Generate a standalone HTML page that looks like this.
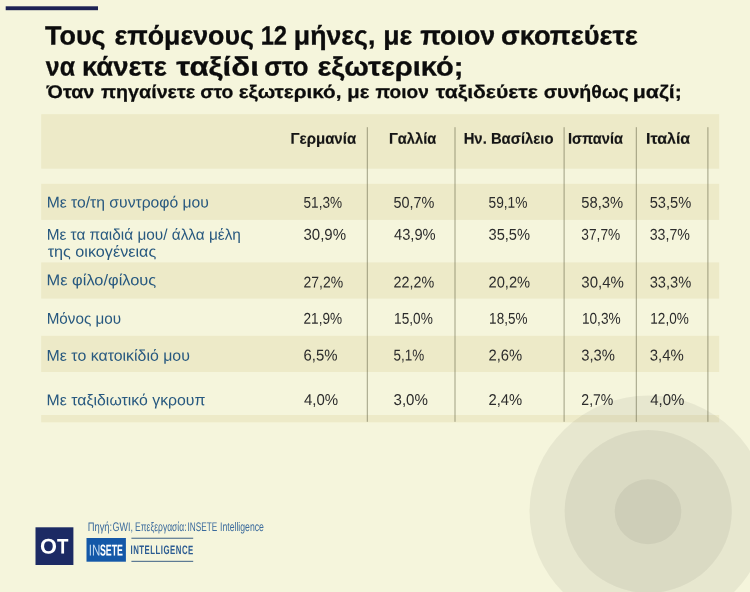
<!DOCTYPE html>
<html lang="el">
<head>
<meta charset="utf-8">
<title>Ταξίδι στο εξωτερικό</title>
<style>
html,body{margin:0;padding:0;}
body{width:750px;height:592px;position:relative;overflow:hidden;background:#f5f5dc;font-family:"Liberation Sans",sans-serif;color:#1a1a1a;}
.abs{position:absolute;}
.g{display:block;margin:0;padding:0;height:0;font:inherit;}
.t{position:absolute;left:0;top:0;white-space:nowrap;line-height:1;transform-origin:0 0;}
.h1{font-weight:bold;color:#0c0c0c;-webkit-text-stroke:0.3px #0c0c0c;}
.h2{font-weight:bold;color:#0c0c0c;-webkit-text-stroke:0.25px #0c0c0c;}
.th{font-weight:bold;color:#151515;-webkit-text-stroke:0.15px #151515;}
.lb{color:#27587f;}
.v{color:#2c2c2c;}
.src{color:#3a6a9c;}
.ot{color:#fff;font-weight:bold;}
.ins1{color:#c4dbf0;}
.ins2{color:#fff;font-weight:bold;}
.intel{color:#2b5b92;font-weight:bold;letter-spacing:0.8px;}

</style>
</head>
<body>

<!-- table bands, circles and column rules -->
<svg class="abs" style="left:0;top:0;" width="750" height="592" viewBox="0 0 750 592">
<rect x="41.2" y="114.2" width="678.0" height="54.5" fill="#edeac8"/>
<rect x="41.2" y="183.8" width="678.0" height="36.1" fill="#edeac8"/>
<rect x="41.2" y="262.4" width="678.0" height="36.2" fill="#edeac8"/>
<rect x="41.2" y="335.8" width="678.0" height="36.2" fill="#edeac8"/>
<rect x="41.2" y="415.0" width="678.0" height="7.3" fill="#edeac8"/>
<ellipse cx="648.5" cy="511.5" rx="119" ry="116" fill="#000" fill-opacity="0.055"/>
<ellipse cx="648.2" cy="511.5" rx="83.6" ry="81.5" fill="#000" fill-opacity="0.055"/>
<ellipse cx="648" cy="511.7" rx="33.3" ry="32.5" fill="#000" fill-opacity="0.055"/>
<rect x="366.8" y="127.2" width="1" height="294.6" fill="#5a5a3c" fill-opacity="0.55"/>
<rect x="454.5" y="127.2" width="1" height="294.6" fill="#5a5a3c" fill-opacity="0.55"/>
<rect x="563.6" y="127.2" width="1" height="294.6" fill="#5a5a3c" fill-opacity="0.55"/>
<rect x="635.8" y="127.2" width="1" height="294.6" fill="#5a5a3c" fill-opacity="0.55"/>
<rect x="707.4" y="127.2" width="1" height="294.6" fill="#5a5a3c" fill-opacity="0.55"/>
</svg>

<!-- footer -->
<svg class="abs" style="left:0;top:0;" width="750" height="592" viewBox="0 0 750 592">
<rect x="5.7" y="6.3" width="92.3" height="3.9" fill="#1c2253"/>
<rect x="35.5" y="527.3" width="37.9" height="37.7" fill="#1c2a64"/>
<rect x="86.5" y="538" width="39.4" height="23.7" fill="#1458a8"/>
<rect x="131.4" y="537.7" width="61.8" height="1.1" fill="#4d6d8c"/>
<rect x="131.4" y="560.8" width="61.8" height="1.1" fill="#4d6d8c"/>
</svg>
<h1 class="g">
<div class="t h1" style="font-size:26.5px;transform:matrix(1.0154,0.0008,0,1,45.05,22.53);">Τους</div>
<div class="t h1" style="font-size:26.5px;transform:matrix(1.0106,0.0008,0,1,114.54,22.49);">επόμενους</div>
<div class="t h1" style="font-size:26.5px;transform:matrix(0.8963,0.0008,0,1,260.66,22.54);">12</div>
<div class="t h1" style="font-size:26.5px;transform:matrix(1.0077,0.0008,0,1,293.84,22.52);">μήνες,</div>
<div class="t h1" style="font-size:26.5px;transform:matrix(1.0093,0.0008,0,1,383.23,22.54);">με</div>
<div class="t h1" style="font-size:26.5px;transform:matrix(1.0124,0.0008,0,1,420.29,22.52);">ποιον</div>
<div class="t h1" style="font-size:26.5px;transform:matrix(1.0297,0.0008,0,1,500.97,22.50);">σκοπεύετε</div>
<div class="t h1" style="font-size:26.5px;transform:matrix(0.9398,0.0008,0,1,45.80,53.54);">να</div>
<div class="t h1" style="font-size:26.5px;transform:matrix(1.0357,0.0008,0,1,81.89,53.52);">κάνετε</div>
<div class="t h1" style="font-size:26.5px;transform:matrix(1.1798,0.0008,0,1,176.30,53.52);">ταξίδι</div>
<div class="t h1" style="font-size:26.5px;transform:matrix(0.9701,0.0008,0,1,264.33,53.53);">στο</div>
<div class="t h1" style="font-size:26.5px;transform:matrix(1.0962,0.0008,0,1,317.48,53.50);">εξωτερικό;</div>
</h1>
<h2 class="g">
<div class="t h2" style="font-size:18.3px;transform:matrix(1.0834,0.0008,0,1,46.57,83.03);">Όταν</div>
<div class="t h2" style="font-size:18.3px;transform:matrix(1.0767,0.0008,0,1,101.03,83.01);">πηγαίνετε</div>
<div class="t h2" style="font-size:18.3px;transform:matrix(1.0579,0.0008,0,1,200.27,83.04);">στο</div>
<div class="t h2" style="font-size:18.3px;transform:matrix(1.1328,0.0008,0,1,238.63,83.01);">εξωτερικό,</div>
<div class="t h2" style="font-size:18.3px;transform:matrix(1.1081,0.0008,0,1,347.31,83.04);">με</div>
<div class="t h2" style="font-size:18.3px;transform:matrix(1.0440,0.0008,0,1,375.54,83.03);">ποιον</div>
<div class="t h2" style="font-size:18.3px;transform:matrix(1.1590,0.0008,0,1,435.80,83.01);">ταξιδεύετε</div>
<div class="t h2" style="font-size:18.3px;transform:matrix(1.0709,0.0008,0,1,543.66,83.02);">συνήθως</div>
<div class="t h2" style="font-size:18.3px;transform:matrix(1.1669,0.0008,0,1,632.74,83.03);">μαζί;</div>
</h2>
<section class="g">
<div class="t th" style="font-size:15.5px;transform:matrix(0.9684,0.0008,0,1,290.53,130.67);">Γερμανία</div>
<div class="t th" style="font-size:15.5px;transform:matrix(0.9477,0.0008,0,1,388.95,130.68);">Γαλλία</div>
<div class="t th" style="font-size:15.5px;transform:matrix(0.9583,0.0008,0,1,463.64,130.66);">Ην. Βασίλειο</div>
<div class="t th" style="font-size:15.5px;transform:matrix(0.9415,0.0008,0,1,568.06,130.68);">Ισπανία</div>
<div class="t th" style="font-size:15.5px;transform:matrix(1.0299,0.0008,0,1,646.07,130.68);">Ιταλία</div>
<div class="t lb" style="font-size:15.5px;transform:matrix(1.0117,0.0008,0,1,46.64,194.44);">Με το/τη συντροφό μου</div>
<div class="t lb" style="font-size:15.5px;transform:matrix(0.9917,0.0008,0,1,46.66,226.72);">Με τα παιδιά μου/ άλλα μέλη</div>
<div class="t lb" style="font-size:15.5px;transform:matrix(1.0441,0.0008,0,1,47.64,243.76);">της οικογένειας</div>
<div class="t lb" style="font-size:15.5px;transform:matrix(1.0578,0.0008,0,1,46.58,272.26);">Με φίλο/φίλους</div>
<div class="t lb" style="font-size:15.5px;transform:matrix(0.9831,0.0008,0,1,46.67,310.67);">Μόνος μου</div>
<div class="t lb" style="font-size:15.5px;transform:matrix(1.0258,0.0008,0,1,46.62,347.74);">Με το κατοικίδιό μου</div>
<div class="t lb" style="font-size:15.5px;transform:matrix(1.0215,0.0008,0,1,46.62,392.14);">Με ταξιδιωτικό γκρουπ</div>
<div class="t v" style="font-size:15.7px;transform:matrix(0.8671,0.0008,0,1,303.55,194.78);">51,3%</div>
<div class="t v" style="font-size:15.7px;transform:matrix(0.9202,0.0008,0,1,393.51,194.78);">50,7%</div>
<div class="t v" style="font-size:15.7px;transform:matrix(0.8740,0.0008,0,1,488.54,194.78);">59,1%</div>
<div class="t v" style="font-size:15.7px;transform:matrix(0.9410,0.0008,0,1,581.29,194.78);">58,3%</div>
<div class="t v" style="font-size:15.7px;transform:matrix(0.9341,0.0008,0,1,649.70,194.78);">53,5%</div>
<div class="t v" style="font-size:15.7px;transform:matrix(0.9572,0.0008,0,1,303.48,226.78);">30,9%</div>
<div class="t v" style="font-size:15.7px;transform:matrix(0.9371,0.0008,0,1,393.97,226.78);">43,9%</div>
<div class="t v" style="font-size:15.7px;transform:matrix(0.9341,0.0008,0,1,488.50,226.78);">35,5%</div>
<div class="t v" style="font-size:15.7px;transform:matrix(0.8740,0.0008,0,1,581.34,226.78);">37,7%</div>
<div class="t v" style="font-size:15.7px;transform:matrix(0.9040,0.0008,0,1,649.72,226.78);">33,7%</div>
<div class="t v" style="font-size:15.7px;transform:matrix(0.8902,0.0008,0,1,303.53,274.38);">27,2%</div>
<div class="t v" style="font-size:15.7px;transform:matrix(0.9133,0.0008,0,1,393.52,274.38);">22,2%</div>
<div class="t v" style="font-size:15.7px;transform:matrix(0.9364,0.0008,0,1,488.50,274.38);">20,2%</div>
<div class="t v" style="font-size:15.7px;transform:matrix(0.9572,0.0008,0,1,581.28,274.38);">30,4%</div>
<div class="t v" style="font-size:15.7px;transform:matrix(0.9341,0.0008,0,1,649.70,274.38);">33,3%</div>
<div class="t v" style="font-size:15.7px;transform:matrix(0.8671,0.0008,0,1,303.55,310.78);">21,9%</div>
<div class="t v" style="font-size:15.7px;transform:matrix(0.8702,0.0008,0,1,394.11,310.78);">15,0%</div>
<div class="t v" style="font-size:15.7px;transform:matrix(0.8608,0.0008,0,1,489.12,310.78);">18,5%</div>
<div class="t v" style="font-size:15.7px;transform:matrix(0.8702,0.0008,0,1,581.91,310.78);">10,3%</div>
<div class="t v" style="font-size:15.7px;transform:matrix(0.8632,0.0008,0,1,650.32,310.78);">12,0%</div>
<div class="t v" style="font-size:15.7px;transform:matrix(0.9507,0.0008,0,1,303.49,347.59);">6,5%</div>
<div class="t v" style="font-size:15.7px;transform:matrix(0.8580,0.0008,0,1,393.56,347.59);">5,1%</div>
<div class="t v" style="font-size:15.7px;transform:matrix(0.9420,0.0008,0,1,488.49,347.59);">2,6%</div>
<div class="t v" style="font-size:15.7px;transform:matrix(0.9420,0.0008,0,1,581.29,347.59);">3,3%</div>
<div class="t v" style="font-size:15.7px;transform:matrix(0.9507,0.0008,0,1,649.69,347.59);">3,4%</div>
<div class="t v" style="font-size:15.7px;transform:matrix(0.9571,0.0008,0,1,303.96,391.99);">4,0%</div>
<div class="t v" style="font-size:15.7px;transform:matrix(0.9623,0.0008,0,1,393.48,391.99);">3,0%</div>
<div class="t v" style="font-size:15.7px;transform:matrix(0.9420,0.0008,0,1,488.49,391.99);">2,4%</div>
<div class="t v" style="font-size:15.7px;transform:matrix(0.8957,0.0008,0,1,581.33,391.99);">2,7%</div>
<div class="t v" style="font-size:15.7px;transform:matrix(0.9571,0.0008,0,1,650.16,391.99);">4,0%</div>
</section>
<footer class="g">
<div class="t src" style="font-size:12.5px;transform:matrix(0.7508,0.0008,0,1,87.65,520.99);">Πηγή:</div>
<div class="t src" style="font-size:12.5px;transform:matrix(0.7170,0.0008,0,1,112.46,520.99);">GWI,</div>
<div class="t src" style="font-size:12.5px;transform:matrix(0.6826,0.0008,0,1,135.02,520.97);">Επεξεργασία:</div>
<div class="t src" style="font-size:12.5px;transform:matrix(0.6590,0.0008,0,1,187.58,520.98);">INSETE</div>
<div class="t src" style="font-size:12.5px;transform:matrix(0.6943,0.0008,0,1,220.03,520.97);">Intelligence</div>
<div class="t ot" style="font-size:21px;transform:matrix(1.0373,0.0008,0,1,40.02,535.49);">O</div>
<div class="t ot" style="font-size:21px;transform:matrix(0.8898,0.0008,0,1,56.98,535.49);">T</div>
<div class="t ins1" style="font-size:15.7px;transform:matrix(0.7385,0.0008,0,1,88.79,542.59);">IN</div>
<div class="t ins2" style="font-size:15.7px;transform:matrix(0.5610,0.0008,0,1,99.92,542.58);">SETE</div>
<div class="t intel" style="font-size:12.3px;transform:matrix(0.6343,0.0008,0,1,130.52,544.06);">INTELLIGENCE</div>
</footer>
</body>
</html>
